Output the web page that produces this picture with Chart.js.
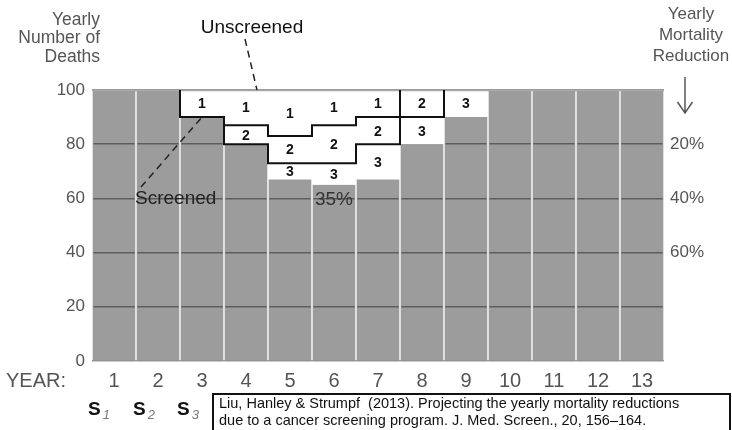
<!DOCTYPE html>
<html lang="en">
<head>
<meta charset="UTF-8">
<title>Yearly Number of Deaths</title>
<script src="https://cdn.jsdelivr.net/npm/chart.js@4"></script>
<style>
  html, body { margin: 0; padding: 0; background: #fff; }
</style>
</head>
<body>
<canvas id="deaths" width="732" height="430"></canvas>
<script>
  // data
  const years = ['1', '2', '3', '4', '5', '6', '7', '8', '9', '10', '11', '12', '13'];
  const screened = [100, 100, 90, 80, 67, 65, 67, 80, 90, 100, 100, 100, 100];
  const fromS1 = [0, 0, 10, 13, 17, 13, 10, 0, 0, 0, 0, 0, 0];
  const fromS2 = [0, 0, 0, 7, 10, 14, 10, 10, 0, 0, 0, 0, 0];
  const fromS3 = [0, 0, 0, 0, 6, 8, 13, 10, 10, 0, 0, 0, 0];
  const reductionTicks = [20, 40, 60];
  const outlined = ['1', '2'];

  const FAM = '"Liberation Sans", Arial, Helvetica, sans-serif';
  Chart.defaults.font.family = FAM;
  const f = (size, weight) => (weight ? weight + ' ' : '') + size + 'px ' + FAM;

  const overlay = {
    id: 'overlay',
    afterDatasetsDraw(chart) {
      const ctx = chart.ctx, a = chart.chartArea;
      ctx.save();
      // thin grey edge along the top of the plot
      ctx.strokeStyle = '#a8a8a8';
      ctx.lineWidth = 1.5;
      ctx.beginPath();
      ctx.moveTo(a.left, a.top + 0.5);
      ctx.lineTo(a.right, a.top + 0.5);
      ctx.stroke();

      // step outlines round the S1 and S2 parts
      ctx.strokeStyle = '#111';
      ctx.lineWidth = 2;
      chart.data.datasets.forEach((ds, di) => {
        if (!outlined.includes(ds.label)) return;
        const bars = chart.getDatasetMeta(di).data.map(b => b.getProps(['x', 'y', 'base', 'width'], true));
        const idx = ds.data.map((v, i) => v > 0 ? i : -1).filter(i => i >= 0);
        const first = idx[0], last = idx[idx.length - 1];
        const L = b => b.x - b.width / 2, R = b => b.x + b.width / 2;
        ctx.beginPath();
        ctx.moveTo(L(bars[first]), bars[first].y);
        ctx.lineTo(L(bars[first]), bars[first].base);
        for (let i = first; i <= last; i++) {
          ctx.lineTo(R(bars[i]), bars[i].base);
          if (i < last) ctx.lineTo(R(bars[i]), bars[i + 1].base);
        }
        ctx.lineTo(R(bars[last]), bars[last].y);
        ctx.stroke();
      });

      // 1 / 2 / 3 inside the white pieces
      ctx.fillStyle = '#111';
      ctx.font = f(14, 'bold');
      ctx.textAlign = 'center';
      ctx.textBaseline = 'middle';
      chart.data.datasets.forEach((ds, di) => {
        if (di === 0) return;
        chart.getDatasetMeta(di).data.forEach((b, i) => {
          if (ds.data[i] > 0) {
            const p = b.getProps(['x', 'y', 'base'], true);
            ctx.fillText(ds.label, p.x, (p.y + p.base) / 2 + 1);
          }
        });
      });
      ctx.restore();
    },
    afterDraw(chart) {
      const ctx = chart.ctx;
      const x = chart.scales.x, y = chart.scales.y;
      ctx.save();
      ctx.textBaseline = 'middle';

      // axis titles
      ctx.fillStyle = '#555';
      ctx.font = f(17.5);
      ctx.textAlign = 'right';
      ['Yearly', 'Number of', 'Deaths'].forEach((t, i) => ctx.fillText(t, 100, 20 + i * 18.5));
      ctx.font = f(17);
      ctx.textAlign = 'center';
      ['Yearly', 'Mortality', 'Reduction'].forEach((t, i) => ctx.fillText(t, 691, 14 + i * 21));
      ctx.font = f(20);
      ctx.textAlign = 'left';
      ctx.fillText('YEAR:', 6, 381);

      // down arrow
      ctx.strokeStyle = '#555';
      ctx.lineWidth = 1.5;
      ctx.beginPath();
      ctx.moveTo(685, 77); ctx.lineTo(685, 113);
      ctx.moveTo(677.5, 102); ctx.lineTo(685, 113); ctx.lineTo(692.5, 102);
      ctx.stroke();

      // Unscreened / Screened pointers
      ctx.fillStyle = '#111';
      ctx.font = f(19);
      ctx.textAlign = 'center';
      ctx.fillText('Unscreened', 252, 28);
      ctx.textAlign = 'left';
      ctx.fillStyle = '#222';
      ctx.fillText('Screened', 135, 199);
      ctx.strokeStyle = '#222';
      ctx.setLineDash([7, 5]);
      ctx.beginPath();
      ctx.moveTo(245, 39);
      ctx.lineTo(x.getPixelForValue(3.25), y.getPixelForValue(100));
      ctx.moveTo(141, 187);
      ctx.lineTo(x.getPixelForValue(2), y.getPixelForValue(90));
      ctx.stroke();
      ctx.setLineDash([]);

      // biggest yearly reduction
      const low = Math.min(...screened);
      ctx.fillStyle = '#333';
      ctx.textAlign = 'center';
      ctx.fillText((100 - low) + '%', x.getPixelForValue(screened.indexOf(low)), y.getPixelForValue(60) + 1);

      // S1 S2 S3
      ctx.textAlign = 'left';
      ctx.textBaseline = 'alphabetic';
      [['1', 88], ['2', 133], ['3', 177]].forEach(([n, sx]) => {
        ctx.fillStyle = '#111';
        ctx.font = f(19, 'bold');
        ctx.fillText('S', sx, 415);
        const w = ctx.measureText('S').width;
        ctx.fillStyle = '#777';
        ctx.font = 'italic ' + f(13);
        ctx.fillText(n, sx + w + 2, 419);
      });

      // citation box
      ctx.strokeStyle = '#111';
      ctx.lineWidth = 2;
      ctx.strokeRect(213, 394, 517, 50);
      const cite = ['Liu, Hanley & Strumpf  (2013). Projecting the yearly mortality reductions',
                    'due to a cancer screening program. J. Med. Screen., 20, 156\u2013164.'];
      let size = 14.5;
      ctx.font = f(size);
      const wid = ctx.measureText(cite[0]).width;
      if (wid > 505) size = size * 505 / wid;
      ctx.font = f(size);
      ctx.fillStyle = '#111';
      ctx.textBaseline = 'middle';
      ctx.fillText(cite[0], 219, 404);
      ctx.fillText(cite[1], 219, 421);
      ctx.restore();
    }
  };

  new Chart(document.getElementById('deaths'), {
    type: 'bar',
    data: {
      labels: years,
      datasets: [
        { label: 'Screened', data: screened, backgroundColor: 'rgba(0,0,0,0.39)',
          borderColor: '#fff', borderWidth: { left: 1, right: 1, top: 0, bottom: 0 } },
        { label: '3', data: fromS3, backgroundColor: '#fff', borderWidth: 0 },
        { label: '2', data: fromS2, backgroundColor: '#fff', borderWidth: 0 },
        { label: '1', data: fromS1, backgroundColor: '#fff', borderWidth: 0 }
      ]
    },
    options: {
      responsive: false,
      animation: false,
      barPercentage: 1,
      categoryPercentage: 1,
      layout: { padding: { top: 90, left: 0, right: 0, bottom: 0 } },
      plugins: { legend: { display: false }, tooltip: { enabled: false } },
      scales: {
        x: {
          stacked: true,
          grid: { display: false },
          border: { display: false },
          ticks: { color: '#555', font: { size: 20 }, padding: 0, maxRotation: 0 },
          afterFit(s) { s.height = 69; }
        },
        y: {
          stacked: true,
          min: 0, max: 100,
          grid: { color: '#999', lineWidth: 1.5, drawTicks: false },
          border: { display: false },
          ticks: { stepSize: 20, color: '#555', font: { size: 17 }, padding: 7 },
          afterFit(s) { s.width = 92; }
        },
        y2: {
          position: 'right',
          reverse: true,
          min: 0, max: 100,
          grid: { display: false, drawTicks: false },
          border: { display: false },
          ticks: { stepSize: 20, color: '#555', font: { size: 17 }, padding: 6,
                   callback: v => reductionTicks.includes(v) ? v + '%' : '' },
          afterFit(s) { s.width = 68; }
        }
      }
    },
    plugins: [overlay]
  });
</script>
</body>
</html>
